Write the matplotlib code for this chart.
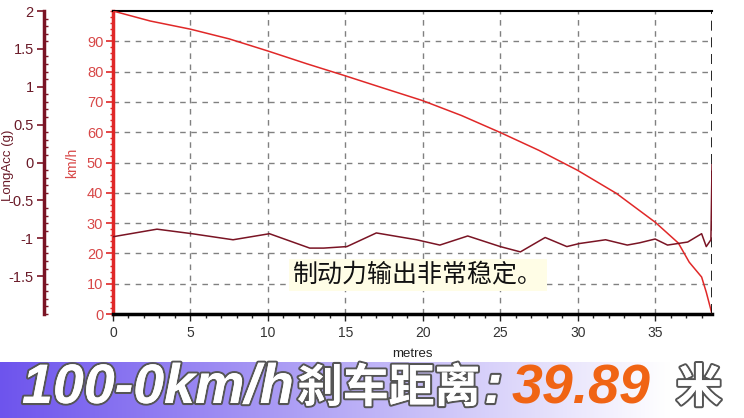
import matplotlib.pyplot as plt
import numpy as np
from matplotlib import patheffects
from matplotlib.ticker import MultipleLocator

# speed trace (km/h) against distance (metres)
dist_speed = [0, 2.4, 5, 7.5, 10, 12.5, 15, 17, 20, 22.5, 25, 27.5, 30, 32.5,
              35, 36.5, 37.2, 38.0, 38.3, 38.67]
speed = [100, 96.7, 94.0, 90.8, 86.8, 82.6, 78.6, 75.3, 70.4, 65.5, 59.9, 54.0,
         47.4, 39.8, 30.3, 23.4, 17.1, 12.2, 7.2, 0]

# longitudinal acceleration (g) against distance (metres)
dist_acc = [0, 2.84, 5.1, 7.75, 10.1, 12.7, 13.6, 15.1, 17.0, 19.6, 21.1, 22.9,
            25.0, 26.3, 27.9, 29.3, 30.1, 31.8, 33.2, 34.0, 35.0, 35.8, 37.1,
            38.0, 38.3, 38.6, 38.67]
acc = [-0.98, -0.88, -0.94, -1.02, -0.94, -1.13, -1.13, -1.11, -0.93, -1.02,
       -1.09, -0.97, -1.11, -1.18, -0.99, -1.11, -1.07, -1.02, -1.09, -1.06,
       -1.01, -1.09, -1.05, -0.94, -1.11, -1.02, -0.03]

x_end = 38.67
note = "制动力输出非常稳定。"
title_parts = ["100-0km/h", "刹车距离", ":", "39.89", "米"]

plt.rcParams['font.family'] = ['Liberation Sans', 'Noto Sans CJK SC', 'DejaVu Sans']

red = "#e02828"
red_lbl = "#d84848"
dark = "#7a1424"

fig = plt.figure(figsize=(7.44, 4.18), dpi=100)
ax = fig.add_axes([113 / 744, 1 - 314 / 418, (712 - 113) / 744, (314 - 11) / 418])

ax.plot(dist_speed, speed, color=red, lw=1.1, zorder=3)
ax.set_xlim(0, x_end)
ax.set_ylim(0, 100)
ax.xaxis.set_major_locator(MultipleLocator(5))
ax.xaxis.set_minor_locator(MultipleLocator(1))
ax.yaxis.set_minor_locator(MultipleLocator(2))
ax.set_yticks(range(0, 100, 10))
ax.grid(True, which='major', color='#808080', ls=(0, (4, 4)), lw=1)
ax.tick_params(axis='x', which='major', length=5, width=1, colors='#222',
               labelsize=10, labelcolor='#333')
ax.tick_params(axis='x', which='minor', length=3, width=1, colors='#222')
ax.tick_params(axis='y', which='major', length=5, width=1.2, colors=red,
               labelsize=10.5, labelcolor=red_lbl, pad=2)
ax.tick_params(axis='y', which='minor', length=2.5, width=1, colors=red)
ax.spines['left'].set_color(red)
ax.spines['left'].set_linewidth(2.5)
ax.spines['bottom'].set_color('black')
ax.spines['bottom'].set_linewidth(2.5)
ax.spines['top'].set_color('black')
ax.spines['top'].set_linewidth(1.5)
ax.spines['right'].set_visible(False)
ax.axvline(x_end, color='black', ls=(0, (6, 4)), lw=1.2, zorder=4)
ax.set_xlabel("metres", fontsize=9.5, color='#222', labelpad=6)
ax.set_ylabel("km/h", fontsize=10, color=red_lbl)
ax.yaxis.set_label_coords(-0.057, 0.5)

ax2 = ax.twinx()
ax2.plot(dist_acc, acc, color=dark, lw=1.1, zorder=3)
ax2.set_ylim(-2, 2)
ax2.yaxis.set_ticks_position('left')
ax2.yaxis.set_label_position('left')
ax2.spines['left'].set_position(('outward', 50))
ax2.spines['left'].set_color(dark)
ax2.spines['left'].set_linewidth(2.5)
for s in ['top', 'right', 'bottom']:
    ax2.spines[s].set_visible(False)
ax2.set_yticks([-1.5, -1, -0.5, 0, 0.5, 1, 1.5, 2])
ax2.set_yticklabels(['-1.5', '-1', '-0.5', '0', '0.5', '1', '1.5', '2'])
ax2.yaxis.set_minor_locator(MultipleLocator(0.1))
ax2.tick_params(axis='y', which='major', length=5, width=1.2, colors=dark,
                labelsize=10.5, labelcolor='#6a1a28', pad=2)
ax2.tick_params(axis='y', which='minor', direction='in', length=3, width=1,
                colors=dark)
ax2.set_ylabel("LongAcc (g)", fontsize=9.5, color='#6a1a28')
ax2.yaxis.set_label_coords(-0.166, 0.49)

fig.text(418 / 744, 1 - 275 / 418, note, fontsize=18, color='#111',
         ha='center', va='center',
         bbox=dict(boxstyle='square,pad=0.15', fc='#fffde6', ec='none'))

# gradient banner at the bottom
bax = fig.add_axes([0, 0, 1, 56 / 418])
grad = np.linspace(0, 1, 256)
left_c = np.array([0.43, 0.33, 0.93])
right_c = np.array([1.0, 1.0, 1.0])
t = np.clip(grad / 0.9, 0, 1)[:, None]
img = (left_c * (1 - t) + right_c * t)[None, :, :]
bax.imshow(img, aspect='auto', extent=[0, 1, 0, 1])
bax.set_axis_off()

shadow = [patheffects.withStroke(linewidth=3, foreground='#555'),
          patheffects.Normal()]
fy = 1 - 389 / 418
fig.text(22 / 744, fy, title_parts[0], fontsize=40, fontweight='bold',
         fontstyle='italic', color='white', va='center', ha='left',
         path_effects=shadow)
fig.text(297 / 744, fy, title_parts[1], fontsize=33, fontweight='heavy',
         family=['Noto Sans CJK SC'], color='white', va='center', ha='left',
         path_effects=shadow)
fig.text(484 / 744, fy, title_parts[2], fontsize=40, fontweight='bold',
         fontstyle='italic', color='white', va='center', ha='left',
         path_effects=shadow)
fig.text(512 / 744, fy, title_parts[3], fontsize=40, fontweight='bold',
         fontstyle='italic', color='#f06414', va='center', ha='left')
fig.text(676 / 744, fy, title_parts[4], fontsize=33, fontweight='heavy',
         family=['Noto Sans CJK SC'], color='white', va='center', ha='left',
         path_effects=shadow)

fig.savefig("out.png", dpi=100)
